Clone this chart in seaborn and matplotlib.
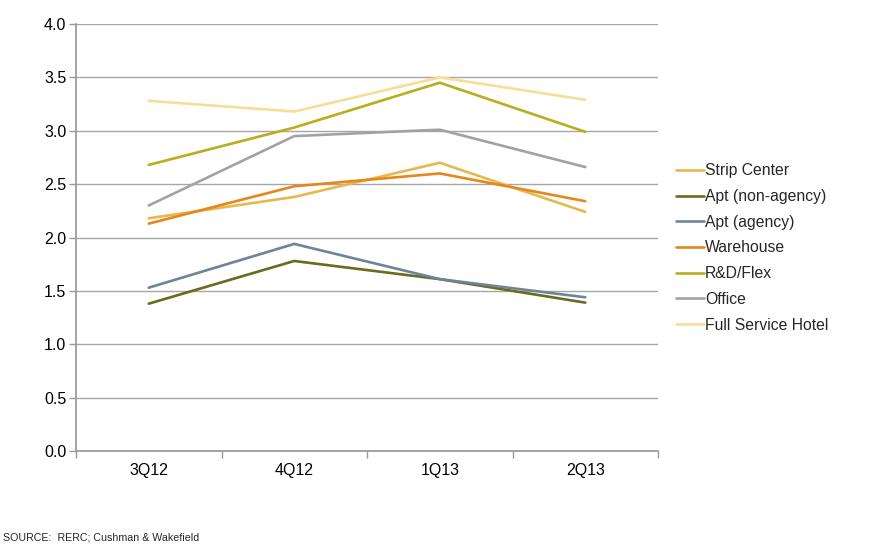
import matplotlib
matplotlib.use("Agg")
import matplotlib.pyplot as plt
import seaborn as sns
import pandas as pd

quarters = ["3Q12", "4Q12", "1Q13", "2Q13"]
strip_center = [2.18, 2.38, 2.70, 2.24]
apt_non_agency = [1.38, 1.78, 1.61, 1.39]
apt_agency = [1.53, 1.94, 1.61, 1.44]
warehouse = [2.13, 2.48, 2.60, 2.34]
rd_flex = [2.68, 3.03, 3.45, 2.99]
office = [2.30, 2.95, 3.01, 2.66]
full_service_hotel = [3.28, 3.18, 3.50, 3.29]

series = {
    "Strip Center": strip_center,
    "Apt (non-agency)": apt_non_agency,
    "Apt (agency)": apt_agency,
    "Warehouse": warehouse,
    "R&D/Flex": rd_flex,
    "Office": office,
    "Full Service Hotel": full_service_hotel,
}
colors = ["#E6B94C", "#6B6A1E", "#6F8499", "#E5871A", "#BAAE1C", "#A2A2A2", "#F9DD96"]

rows = []
for name, vals in series.items():
    for i, (q, v) in enumerate(zip(quarters, vals)):
        rows.append({"idx": i, "Quarter": q, "Value": v, "Series": name})
df = pd.DataFrame(rows)

sns.set_theme(style="white")
plt.rcParams["font.family"] = ["Liberation Sans", "DejaVu Sans"]

fig = plt.figure(figsize=(8.77, 5.45), dpi=100)
ax = fig.add_axes([76/877, 94/545, 582/877, 427/545])

sns.lineplot(data=df, x="idx", y="Value", hue="Series", hue_order=list(series.keys()),
             palette=colors, linewidth=1.9, ax=ax, legend=True, sort=False)

yt = [0, 0.5, 1.0, 1.5, 2.0, 2.5, 3.0, 3.5, 4.0]
ax.set_xlim(-0.5, 3.5)
ax.set_ylim(0, 4.0)
ax.set_yticks(yt)
ax.set_yticklabels([f"{v:.1f}" for v in yt])
ax.set_xticks(range(len(quarters)))
ax.set_xticklabels(quarters)
ax.set_xticks([-0.5, 0.5, 1.5, 2.5, 3.5], minor=True)
ax.tick_params(axis="x", which="major", length=0, pad=9, labelsize=11.5, labelcolor="black")
ax.tick_params(axis="x", which="minor", length=5, width=1, color="#999999", direction="out", bottom=True)
ax.tick_params(axis="y", which="major", length=5, width=1, color="#999999", direction="out", left=True,
               labelsize=11.5, labelcolor="black", pad=2)
ax.set_xlabel("")
ax.set_ylabel("")

ax.grid(axis="y", color="#A6A6A6", linewidth=1)
ax.set_axisbelow(True)
for s in ["top", "right"]:
    ax.spines[s].set_visible(False)
ax.spines["left"].set_color("#999999")
ax.spines["bottom"].set_color("#999999")

handles, labels = ax.get_legend_handles_labels()
for h in handles:
    h.set_linewidth(1.9)
ax.legend(handles, labels, loc="center left", bbox_to_anchor=(676/877, (545-248)/545),
          bbox_transform=fig.transFigure, frameon=False, fontsize=11.3,
          handlelength=1.8, handletextpad=0.05, labelspacing=0.68, borderaxespad=0, borderpad=0)

fig.text(3/877, (545-537)/545, "SOURCE:  RERC; Cushman & Wakefield", fontsize=7.7, va="center", ha="left")

fig.savefig("out.png", dpi=100)
